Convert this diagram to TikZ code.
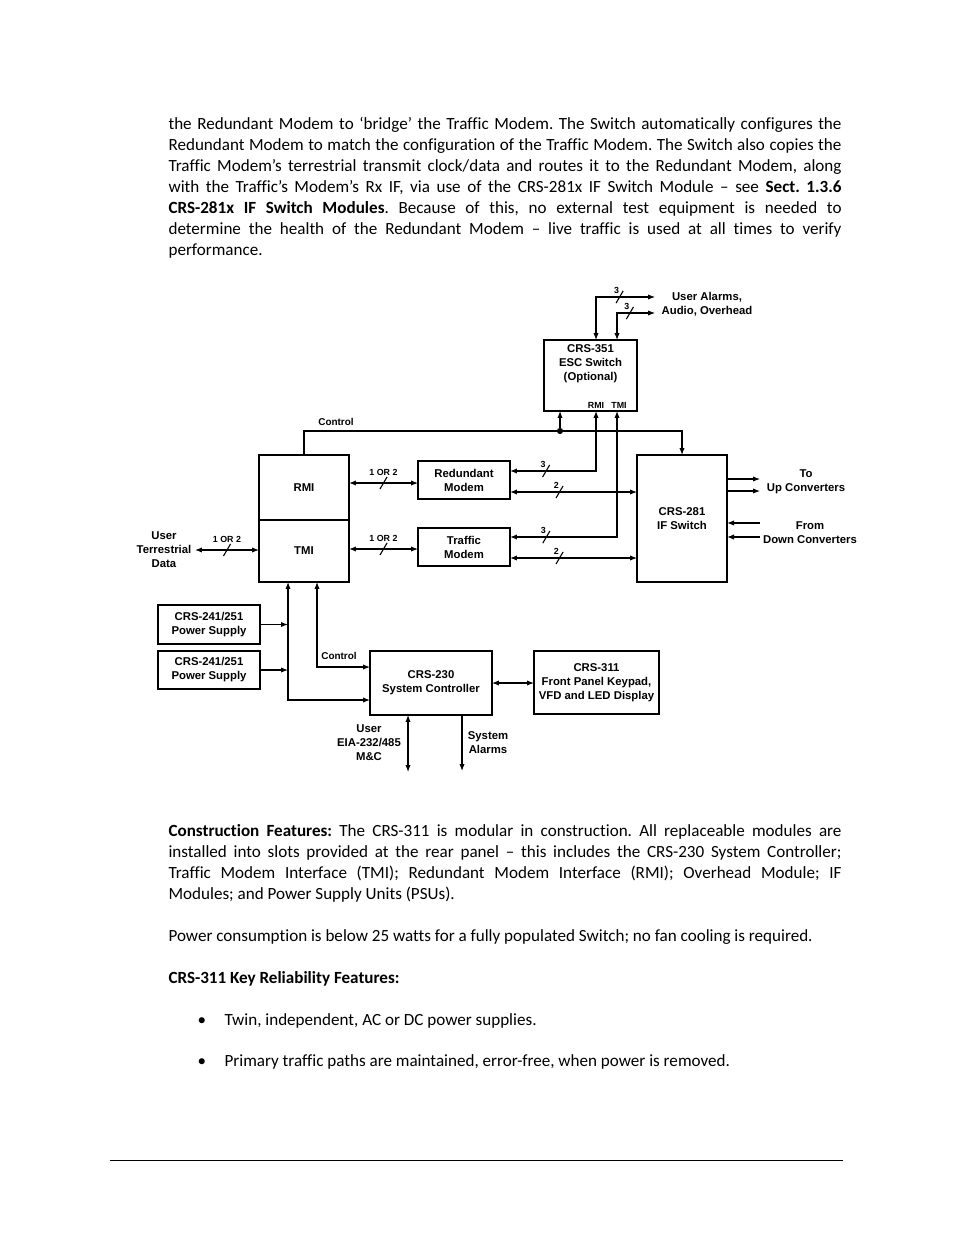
\documentclass[tikz,border=0pt]{standalone}
\usepackage{fontspec}
\setmainfont{Carlito}[Ligatures={TeX,NoCommon}]
\newfontfamily\diagfont{Liberation Sans}
\usepackage{tikz}
\usetikzlibrary{positioning, arrows.meta, calc, shapes.misc}
\frenchspacing

\newlength\px
\setlength\px{0.6415bp}
\newlength\linew
\setlength\linew{673\px}

\newcommand\mainlbl{\diagfont\bfseries\fontsize{7.3}{9}\selectfont}
\newcommand\smalllbl{\diagfont\bfseries\fontsize{5.7}{7}\selectfont}
\newcommand\ctlfont{\diagfont\bfseries\fontsize{6.4}{8}\selectfont}

\tikzset{
    box/.style={draw, line width=1.4pt, inner sep=0, outer sep=0, align=center, font=\mainlbl},
    lbl/.style={inner sep=0, align=center, font=\mainlbl},
    ctllbl/.style={inner sep=0, font=\ctlfont},
    busnum/.style={inner sep=0.6pt, font=\smalllbl},
    digit/.style={busnum, xshift=-2pt, label distance=-2.5pt},
    busmark/.style={-, strike out, draw, line width=0.7pt, inner sep=0, minimum width=6*\px, minimum height=11*\px},
    bodyline/.style={anchor=base west, inner sep=0, font=\fontsize{11}{13.5}\selectfont}
}

\begin{document}
\begin{tikzpicture}[
    x=0.6415bp, y=-0.6415bp,
    >={Latex[length=4.5pt,width=3.4pt]},
    line width=0.7pt
]
    \path[fill=white] (0,0) rectangle (954,1235);

    % Text above the diagram
    \node[bodyline] (p1a) at (168,130) {\makebox[\linew][s]{the Redundant Modem to ‘bridge’ the Traffic Modem. The Switch automatically configures the}};
    \node[bodyline] (p1b) at (168,151) {\makebox[\linew][s]{Redundant Modem to match the configuration of the Traffic Modem. The Switch also copies the}};
    \node[bodyline] (p1c) at (168,172) {\makebox[\linew][s]{Traffic Modem’s terrestrial transmit clock/data and routes it to the Redundant Modem, along}};
    \node[bodyline] (p1d) at (168,193) {\makebox[\linew][s]{with the Traffic’s Modem’s Rx IF, via use of the CRS-281x IF Switch Module -- see \textbf{Sect. 1.3.6}}};
    \node[bodyline] (p1e) at (168,214) {\makebox[\linew][s]{\textbf{CRS-281x IF Switch Modules}. Because of this, no external test equipment is needed to}};
    \node[bodyline] (p1f) at (168,235) {\makebox[\linew][s]{determine the health of the Redundant Modem -- live traffic is used at all times to verify}};
    \node[bodyline] (p1g) at (168,256) {performance.};

    % Define nodes
    \node[box, minimum width=93*\px, minimum height=71*\px] (ESC) at (590.5,375.5) {};
    \node[lbl, below=2.5pt of ESC.north] (ESCtxt) {CRS-351\\ESC Switch\\(Optional)};
    \node[box, minimum width=90*\px, minimum height=65*\px] (RMI) at (304,487.5) {RMI};
    \node[box, minimum width=90*\px, minimum height=62*\px, below=0pt of RMI] (TMI) {TMI};
    \node[box, minimum width=92*\px, minimum height=38*\px] (RedMod) at (464,480) {Redundant\\Modem};
    \node[box, minimum width=92*\px, minimum height=38*\px] (TrafMod) at (464,547) {Traffic\\Modem};
    \node[box, minimum width=90*\px, minimum height=127*\px] (IFS) at (682,518.5) {CRS-281\\IF Switch};
    \node[box, minimum width=102*\px, minimum height=39*\px] (PS1) at (209,624.5) {CRS-241/251\\Power Supply};
    \node[box, minimum width=102*\px, minimum height=38*\px] (PS2) at (209,670) {CRS-241/251\\Power Supply};
    \node[box, minimum width=122*\px, minimum height=64*\px] (SysCtl) at (431,683) {CRS-230\\System Controller};
    \node[box, minimum width=125*\px, minimum height=63*\px] (FP) at (596.5,682.5) {CRS-311\\Front Panel Keypad,\\VFD and LED Display};

    % Free ends and taps
    \coordinate (almA) at (655,297);
    \coordinate (almB) at (655,313);
    \coordinate (upA) at (760,479);
    \coordinate (upB) at (760,491);
    \coordinate (dnA) at (760,523);
    \coordinate (dnB) at (760,537);
    \coordinate (usrdata) at (195,550);
    \coordinate (mc) at (408,772);
    \coordinate (sysalm) at (462,771);
    \coordinate (escA) at ($(ESC.north west)+(52,0)$);
    \coordinate (escB) at ($(ESC.north west)+(73,0)$);
    \coordinate (escC) at ($(ESC.south west)+(16,0)$);
    \coordinate (pwrbus) at ($(TMI.south west)+(29,0)$);
    \coordinate (ctlbus) at ($(TMI.south west)+(58,0)$);

    % Labels
    \node[busnum, above=0.5pt] at (ESC.south -| escA) {RMI};
    \node[busnum, above=0.5pt] at ($(ESC.south -| escB)+(2,0)$) {TMI};
    \node[lbl] (almtxt) at (707,304) {User Alarms,\\Audio, Overhead};
    \node[lbl] (uptxt) at (806,482) {To\\Up Converters};
    \node[lbl] (dntxt) at (810,532.5) {From\\Down Converters};
    \node[lbl] (usrtxt) at (164,550) {User\\Terrestrial\\Data};
    \node[lbl] (mctxt) at (369,743) {User\\EIA-232/485\\M\&C};
    \node[lbl] (alarmtxt) at (488,743) {System\\Alarms};
    \node[ctllbl] (ctltxtA) at (336,422) {Control};
    \node[ctllbl] (ctltxtB) at (339,656) {Control};

    % Draw arrows
    \draw[<->] (escA) |- node[busmark, pos=0.70, label={[digit]above:3}] {} (almA);
    \draw[<->] (escB) |- node[busmark, pos=0.67, label={[digit]above:3}] {} (almB);

    \draw[->] (RMI.north) -- ++(0,-24) coordinate (ctltop) -| (IFS.north);
    \fill (ctltop -| escC) circle[radius=2pt];
    \draw[->] (ctltop -| escC) -- (escC);

    \draw[<->] ($(RMI.east)+(0,-4.5)$) coordinate (ra) -- node[busmark, label={[busnum]above:1 OR 2}] {} (ra -| RedMod.west);
    \draw[<->] ($(TMI.east)+(0,-2)$) coordinate (ta) -- node[busmark, label={[busnum]above:1 OR 2}] {} (ta -| TrafMod.west);

    \draw[<->] ($(RedMod.east)+(0,-9)$) -| node[busmark, pos=0.21, label={[digit]above:3}] {} (ESC.south -| escA);
    \draw[<->] ($(TrafMod.east)+(0,-10)$) -| node[busmark, pos=0.17, label={[digit]above:3}] {} (ESC.south -| escB);
    \draw[<->] ($(RedMod.east)+(0,12)$) coordinate (rb) -- node[busmark, pos=0.39, label={[digit]above:2}] {} (rb -| IFS.west);
    \draw[<->] ($(TrafMod.east)+(0,11)$) coordinate (tb) -- node[busmark, pos=0.39, label={[digit]above:2}] {} (tb -| IFS.west);

    \draw[->] (IFS.east |- upA) -- (upA);
    \draw[->] (IFS.east |- upB) -- (upB);
    \draw[->] (dnA) -- (IFS.east |- dnA);
    \draw[->] (dnB) -- (IFS.east |- dnB);

    \draw[<->] (usrdata) -- node[busmark, label={[busnum]above:1 OR 2}] {} (usrdata -| TMI.west);

    \draw[<->] (pwrbus) |- ($(SysCtl.west)+(0,17)$);
    \draw[<->] (ctlbus) |- ($(SysCtl.west)+(0,-16)$);
    \draw[->] (PS1.east) -- (PS1.east -| pwrbus);
    \draw[->] (PS2.east) -- (PS2.east -| pwrbus);
    \draw[<->] (SysCtl.east) -- (SysCtl.east -| FP.west);
    \draw[<->] (SysCtl.south -| mc) -- (mc);
    \draw[->] (SysCtl.south -| sysalm) -- (sysalm);

    % Text below the diagram
    \node[bodyline] (p2a) at (168,836) {\makebox[\linew][s]{\textbf{Construction Features:} The CRS-311 is modular in construction. All replaceable modules are}};
    \node[bodyline] (p2b) at (168,857) {\makebox[\linew][s]{installed into slots provided at the rear panel -- this includes the CRS-230 System Controller;}};
    \node[bodyline] (p2c) at (168,878) {\makebox[\linew][s]{Traffic Modem Interface (TMI); Redundant Modem Interface (RMI); Overhead Module; IF}};
    \node[bodyline] (p2d) at (168,899) {Modules; and Power Supply Units (PSUs).};
    \node[bodyline] (p3) at (168,941) {Power consumption is below 25 watts for a fully populated Switch; no fan cooling is required.};
    \node[bodyline] (p4) at (168,983) {\textbf{CRS-311 Key Reliability Features:}};
    \node[bodyline] (b1) at (197,1025) {•};
    \node[bodyline] (b1t) at (224,1025) {Twin, independent, AC or DC power supplies.};
    \node[bodyline] (b2) at (197,1066) {•};
    \node[bodyline] (b2t) at (224,1066) {Primary traffic paths are maintained, error-free, when power is removed.};

    % Footer rule
    \coordinate (footL) at (110,1160);
    \coordinate (footR) at (843,1160);
    \draw[line width=0.6pt] (footL) -- (footR);
\end{tikzpicture}
\end{document}
